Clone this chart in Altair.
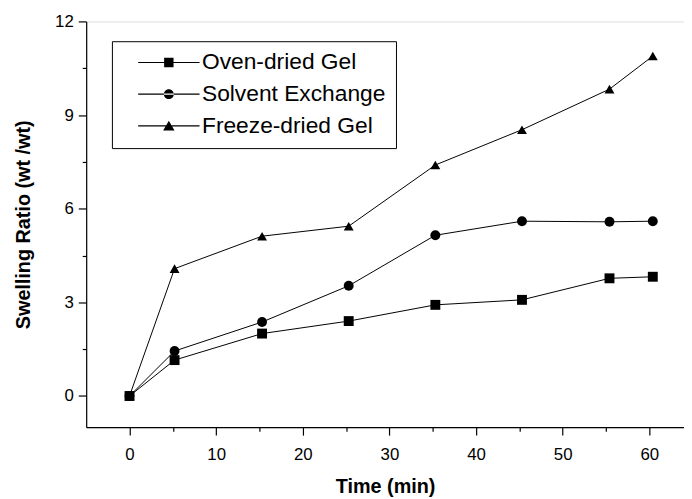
import altair as alt
import pandas as pd

# ---- data ----
series_names = ["Oven-dried Gel", "Solvent Exchange", "Freeze-dried Gel"]
time_min = [0, 5.2, 15.3, 25.3, 35.3, 45.3, 55.4, 60.4]
oven_dried = [0, 1.15, 2.00, 2.40, 2.92, 3.08, 3.77, 3.82]
solvent_exchange = [0, 1.44, 2.37, 3.53, 5.15, 5.60, 5.58, 5.60]
freeze_dried = [0, 4.08, 5.12, 5.44, 7.40, 8.53, 9.83, 10.89]

x_major_ticks = [0, 10, 20, 30, 40, 50, 60]
x_minor_ticks = [5, 15, 25, 35, 45, 55]
y_major_ticks = [0, 3, 6, 9, 12]
y_minor_ticks = [1.5, 4.5, 7.5, 10.5]

rows = []
for name, vals in zip(series_names, [oven_dried, solvent_exchange, freeze_dried]):
    for t, v in zip(time_min, vals):
        rows.append({"series": name, "time": t, "ratio": v})
df = pd.DataFrame(rows)

FONT = "Liberation Sans"
x_scale = alt.Scale(domain=[-5, 64], nice=False, zero=False)
y_scale = alt.Scale(domain=[-1, 12], nice=False, zero=False)

major_x_axis = alt.Axis(values=x_major_ticks, title="Time (min)", orient="bottom",
                        tickSize=8, labelFontSize=17, labelFont=FONT, labelColor="black",
                        titleFont=FONT, titleFontSize=20, titleFontWeight="bold", titleColor="black",
                        domainColor="black", domainWidth=1.2, tickColor="black", tickWidth=1.2,
                        labelPadding=12, titlePadding=14, grid=False, labelFlush=False)
major_y_axis = alt.Axis(values=y_major_ticks, title="Swelling Ratio (wt /wt)", orient="left",
                        tickSize=8, labelFontSize=17, labelFont=FONT, labelColor="black",
                        titleFont=FONT, titleFontSize=20, titleFontWeight="bold", titleColor="black",
                        domainColor="black", domainWidth=1.2, tickColor="black", tickWidth=1.2,
                        labelPadding=5, titlePadding=21, grid=False, labelFlush=False)
minor_x_axis = alt.Axis(values=x_minor_ticks, title=None, orient="bottom", labels=False,
                        domain=False, tickSize=4, tickColor="black", tickWidth=1.2, grid=False)
minor_y_axis = alt.Axis(values=y_minor_ticks, title=None, orient="left", labels=False,
                        domain=False, tickSize=4, tickColor="black", tickWidth=1.2, grid=False)

base = alt.Chart(df)

lines = base.mark_line(color="black", strokeWidth=1).encode(
    x=alt.X("time:Q", scale=x_scale, axis=major_x_axis),
    y=alt.Y("ratio:Q", scale=y_scale, axis=major_y_axis),
    detail="series:N",
)

points = base.mark_point(filled=True, color="black", opacity=1, size=100).encode(
    x=alt.X("time:Q", scale=x_scale, axis=None),
    y=alt.Y("ratio:Q", scale=y_scale, axis=None),
    shape=alt.Shape("series:N", sort=series_names,
                    scale=alt.Scale(domain=series_names, range=["square", "circle", "triangle-up"]),
                    legend=None),
)

# legend symbols: a thin filled bar (the line) plus the marker
legend_paths = [
    "M-6.2,-0.12H6.2V0.12H-6.2ZM-0.95,-0.95H0.95V0.95H-0.95Z",
    "M-6.2,-0.12H6.2V0.12H-6.2ZM-1,0A1,1 0 1,0 1,0A1,1 0 1,0 -1,0Z",
    "M-6.2,-0.12H6.2V0.12H-6.2ZM0,-1.05L1.15,0.95L-1.15,0.95Z",
]

legend_layer = base.mark_point(filled=True, color="black", opacity=0, size=100).encode(
    x=alt.X("time:Q", scale=x_scale, axis=None),
    y=alt.Y("ratio:Q", scale=y_scale, axis=None),
    shape=alt.Shape("series:N", sort=series_names,
                    scale=alt.Scale(domain=series_names, range=legend_paths),
                    legend=alt.Legend(title=None, orient="none", legendX=26, legendY=20,
                                      strokeColor="black", fillColor="white", padding=10,
                                      labelFont=FONT, labelFontSize=23, labelColor="black",
                                      symbolSize=100, symbolOffset=36, labelOffset=22,
                                      symbolOpacity=1, symbolFillColor="black",
                                      rowPadding=8, labelLimit=400)),
)

minor = base.mark_point(opacity=0).encode(
    x=alt.X("time:Q", scale=x_scale, axis=minor_x_axis),
    y=alt.Y("ratio:Q", scale=y_scale, axis=minor_y_axis),
)

chart = alt.layer(lines, points, legend_layer, minor).resolve_scale(
    shape="independent"
).resolve_axis(
    x="independent", y="independent"
).properties(
    width=604, height=410,
    autosize=alt.AutoSizeParams(type="none"),
    padding={"left": 79, "top": 11, "right": 0, "bottom": 72},
).configure_view(stroke=None).configure(background="white")

chart.save("out.html", embed_options={"renderer": "svg", "actions": False})
